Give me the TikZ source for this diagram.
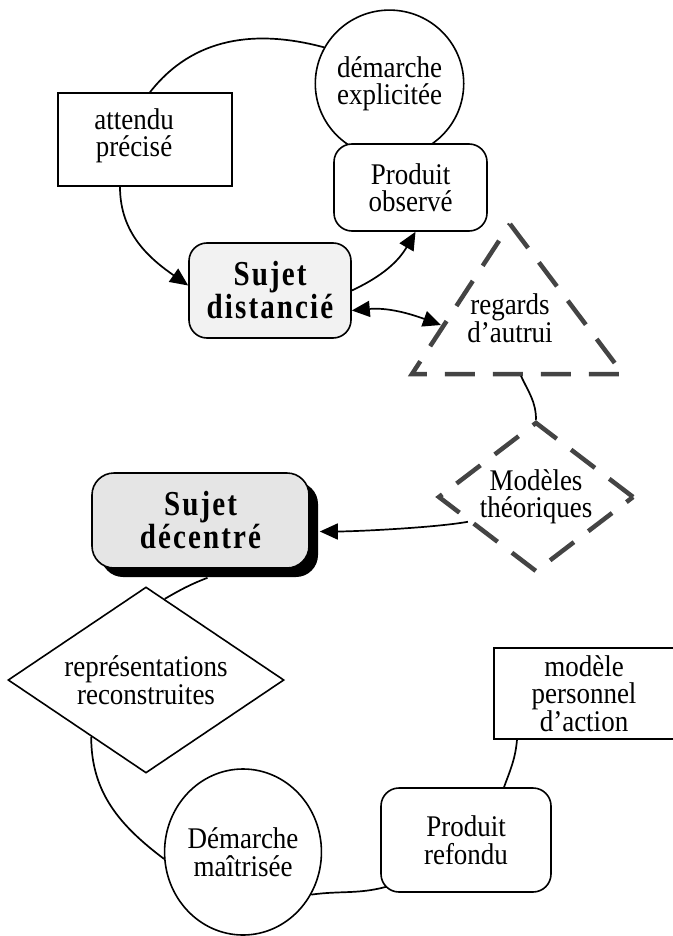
\documentclass[tikz,border=0pt]{standalone}
\usepackage{fontspec}
\setmainfont{Liberation Serif}[FakeStretch=0.9]
\newfontfamily\spacedserif{Liberation Serif}[LetterSpace=6, FakeStretch=0.83]
\newcommand\boxfont{\fontsize{30}{27.5}\selectfont}
\newcommand\sujetfont{\spacedserif\bfseries\fontsize{35}{33}\selectfont}
\usetikzlibrary{arrows.meta,shapes.geometric,shadows}
\definecolor{dashgray}{HTML}{444444}
\definecolor{sujetlight}{HTML}{F2F2F2}
\definecolor{sujetdark}{HTML}{E5E5E5}
\begin{document}
\begin{tikzpicture}[x=1pt, y=1pt,
    every node/.style={align=center, inner sep=0pt, font=\boxfont},
    plainbox/.style={draw, line width=1.6pt, fill=white},
    roundbox/.style={plainbox, rounded corners=18pt},
    ovalbox/.style={plainbox, ellipse},
    dashline/.style={draw=dashgray, line width=4.5pt, dash pattern=on 30pt off 18pt},
    link/.style={line width=1.7pt},
    arrowlink/.style={link, -{Triangle[length=18pt,width=16pt]}},
    dbllink/.style={link, {Triangle[length=18pt,width=16pt]}-{Triangle[length=18pt,width=16pt]}}]
  \useasboundingbox (0,0) rectangle (672,-936);
  % upper cycle
  \node (demarcheE) at (389.5,-83.6) [ovalbox, minimum width=147pt, minimum height=147pt] {démarche\\explicitée};
  \node (produitO) at (410.5,-187.5) [roundbox, minimum width=153pt, minimum height=87pt] {Produit\\observé};
  \node (attendu) at (145,-139.5) [plainbox, minimum width=174pt, minimum height=93pt] {};
  \node (attenduT) at (134,-136) {attendu\\précisé};
  \node (sujetD) at (270,-290.5) [roundbox, fill=sujetlight, minimum width=162pt, minimum height=95pt, font=\sujetfont] {Sujet\\distancié};
  % regards d'autrui
  \draw[dashline] (510,-224) -- (623,-374) -- (412,-374) -- cycle;
  \node (regards) at (510,-318) {regards\\d’autrui};
  \coordinate (regardsW) at (441,-325);
  \coordinate (regardsS) at (521,-376);
  \node (modeles) at (536,-497) [diamond, dashline, aspect=1.3, minimum width=196pt, minimum height=150pt] {Modèles\\théoriques};
  % lower cycle
  \node (sujetDc) at (200.5,-520.5) [roundbox, rounded corners=22pt, fill=sujetdark, minimum width=217pt, minimum height=95pt, font=\sujetfont,
      drop shadow={shadow xshift=9pt, shadow yshift=-9pt, fill=black, opacity=1}] {Sujet\\décentré};
  \node (reprR) at (146,-680) [plainbox, diamond, aspect=1.5, minimum width=276pt, minimum height=186pt] {représentations\\reconstruites};
  \node (demM) at (243,-852) [ovalbox, minimum width=152pt, minimum height=166pt] {Démarche\\maîtrisée};
  \node (produitR) at (466,-840) [roundbox, minimum width=170pt, minimum height=104pt] {Produit\\refondu};
  \node (modeleP) at (584,-693.5) [plainbox, minimum width=180pt, minimum height=91pt] {modèle\\personnel\\d’action};
  % connectors
  \draw[link] ([xshift=5pt]attendu.north) to[out=52, in=165] (demarcheE.151);
  \draw[arrowlink] ([xshift=-25pt]attendu.south) to[out=-90, in=145] ([yshift=5pt]sujetD.west);
  \draw[arrowlink] (sujetD.east) to[out=25, in=-120] ([xshift=5pt]produitO.south);
  \draw[dbllink] ([yshift=-20pt]sujetD.east) to[out=5, in=160] (regardsW);
  \draw[link] (regardsS) to[out=-65, in=90] (modeles.north);
  \draw[arrowlink] (modeles.200) to[out=190, in=0, looseness=0.6] ([shift={(10pt,-11pt)}]sujetDc.east);
  \draw[link] ([shift={(7pt,-9pt)}]sujetDc.south) to[out=201, in=30] (reprR.77);
  \draw[link] (reprR.226) to[out=-90, in=143] (demM.185);
  \draw[link] (demM.-32) to[out=8, in=195] ([shift={(6pt,6pt)}]produitR.south west);
  \draw[link] ([xshift=38pt]produitR.north) to[out=70, in=-95] ([xshift=-67pt]modeleP.south);
\end{tikzpicture}
\end{document}
